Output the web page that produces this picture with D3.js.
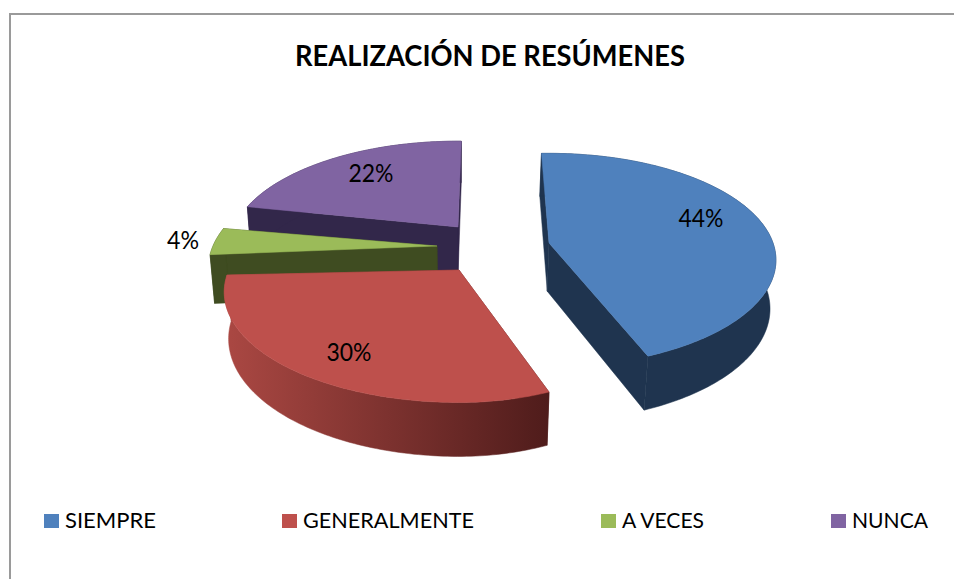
<!DOCTYPE html>
<html><head><meta charset="utf-8">
<script src="https://cdn.jsdelivr.net/npm/d3@7"></script>
<style>html,body{margin:0;padding:0;background:#fff}svg{display:block}text{font-family:Lato,"Open Sans",sans-serif;fill:#000}</style>
</head><body><div id="c"></div>
<script>
const categories = ["SIEMPRE","GENERALMENTE","A VECES","NUNCA"];
const values = [44,30,4,22];
const topColors = ["#4F81BD","#BE504C","#9BBB59","#8064A2"];
const wallColors = ["#1F344F","#7A2F2D","#3F4C21","#32274A"];
const title = "REALIZACIÓN DE RESÚMENES";

// layout
const W=954,H=579;
const apexes=[[549,243],[459,270],[437,246],[458,227]];
const labelPos=[[701,218],[349,352],[183,240],[371,173]];
const labelWidth=[45,45,32,45];
const legendX=[44,282,601,831];
const legendTextW=[91,171,82,76];
const drawOrder=[3,2,0,1];
const rotation=[-2,-0.6,-2.5,-0.5];
const radiusL=[1000,230,224,224];
const radiusR=[224,207,224,226];
const radiusY=[104,106,106,103];
const tilt=[0.16,0.2,0.2,0.2];
const depth=[49,46.5,49,49];
const s=0.018, xv=460;

const svg=d3.select("#c").append("svg").attr("width",W).attr("height",H);
svg.append("path").attr("d",`M10,${H}V14H${W}`).attr("fill","none").attr("stroke","#9a9a9a").attr("stroke-width",2);

const defs=svg.append("defs");
const grad=defs.append("linearGradient").attr("id","redWall").attr("gradientUnits","userSpaceOnUse")
  .attr("x1",224).attr("x2",549).attr("y1",0).attr("y2",0);
grad.append("stop").attr("offset",0).attr("stop-color","#AB4843");
grad.append("stop").attr("offset",1).attr("stop-color","#4F1C1B");

const startDeg=1.5;
const pie=d3.pie().sort(null).value(d=>d).startAngle(startDeg*Math.PI/180).endAngle((startDeg+360)*Math.PI/180);
const arcs=pie(values);

function project(i,u,v,z){
  const apex=apexes[i];
  const w=1+tilt[i]*v+s*z;
  const ax=apex[0]+(xv-apex[0])*0.02*z;
  const r=u<0?radiusL[i]:radiusR[i];
  return [ax+r*u/w, apex[1]-(radiusY[i]*v-depth[i]*z)/w];
}
function arcPts(a,i,z){
  const n=Math.ceil((a.endAngle-a.startAngle)*180/Math.PI);
  const rot=rotation[i]*Math.PI/180;
  return d3.range(n+1).map(j=>{
    const t=a.startAngle+rot+(a.endAngle-a.startAngle)*j/n;
    return project(i,Math.sin(t),Math.cos(t),z);
  });
}
const line=d3.line();
const g=svg.append("g");
drawOrder.forEach(i=>{
  const a=arcs[i];
  const top=arcPts(a,i,0),bot=arcPts(a,i,1);
  const c0=project(i,0,0,0),c1=project(i,0,0,1);
  const fill=i===1?"url(#redWall)":wallColors[i];
  const walls=[[c0,top[0],bot[0],c1],[c0,top[top.length-1],bot[bot.length-1],c1],top.concat(bot.slice().reverse())];
  walls.forEach(p=>g.append("path").attr("d",line(p)+"Z").attr("fill",fill).attr("stroke",fill).attr("stroke-width",0.5));
  g.append("path").attr("d",line([c0].concat(top))+"Z").attr("fill",topColors[i]).attr("stroke",topColors[i]).attr("stroke-width",0.5);
});

values.forEach((v,i)=>svg.append("text").attr("x",labelPos[i][0]).attr("y",labelPos[i][1]+9)
  .attr("text-anchor","middle").attr("font-size",25).attr("textLength",labelWidth[i]).attr("lengthAdjust","spacingAndGlyphs").text(v+"%"));

svg.append("text").attr("x",490).attr("y",66).attr("text-anchor","middle").attr("font-size",28).attr("font-weight",700)
  .attr("textLength",390).attr("lengthAdjust","spacingAndGlyphs").text(title);

categories.forEach((c,i)=>{
  svg.append("rect").attr("x",legendX[i]).attr("y",514).attr("width",15).attr("height",14).attr("fill",topColors[i]);
  svg.append("text").attr("x",legendX[i]+21).attr("y",528).attr("font-size",21)
    .attr("textLength",legendTextW[i]).attr("lengthAdjust","spacingAndGlyphs").text(c);
});
</script></body></html>
